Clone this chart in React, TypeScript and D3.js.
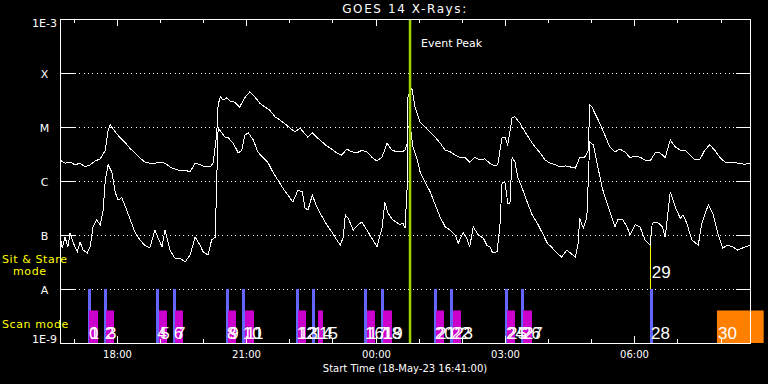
import React from "react";
import * as d3 from "d3";

// GOES 14 x-ray flux, 18-May-23 from 16:41 UT
// [minutes since start, log10 flux (W/m^2)]
const longChannel: [number, number][] = [
  [0, -5.61], [7, -5.67], [14, -5.65], [21, -5.7], [28, -5.67], [35, -5.74], [42, -5.7],
  [49, -5.63], [56, -5.59], [63, -5.43], [67, -5.06], [70, -4.96], [72, -5.0], [77, -5.09],
  [83, -5.19], [90, -5.28], [97, -5.39], [104, -5.48], [111, -5.57], [118, -5.65], [125, -5.67],
  [132, -5.67], [139, -5.65], [146, -5.67], [153, -5.74], [160, -5.78], [167, -5.81],
  [174, -5.8], [181, -5.83], [188, -5.67], [195, -5.7], [202, -5.74], [209, -5.74],
  [213, -5.67], [218, -5.15], [220, -4.59], [223, -4.44], [227, -4.5], [232, -4.46],
  [237, -4.52], [243, -4.54], [250, -4.63], [257, -4.46], [264, -4.35], [271, -4.44],
  [278, -4.56], [285, -4.63], [292, -4.69], [299, -4.81], [306, -4.87], [313, -4.94],
  [320, -5.02], [327, -5.09], [334, -5.02], [341, -5.13], [345, -5.19], [351, -5.11],
  [358, -5.2], [365, -5.28], [371, -5.35], [378, -5.41], [385, -5.48], [392, -5.52],
  [399, -5.41], [406, -5.46], [413, -5.48], [420, -5.43], [427, -5.46], [434, -5.56],
  [441, -5.63], [448, -5.56], [455, -5.3], [462, -5.43], [469, -5.46], [476, -5.46],
  [480, -5.43], [483, -5.3], [484, -4.46], [487, -4.31], [488, -4.28], [490, -4.31],
  [494, -4.63], [501, -4.91], [508, -5.0], [515, -5.09], [522, -5.19], [529, -5.3],
  [536, -5.43], [543, -5.46], [550, -5.52], [557, -5.57], [563, -5.56], [570, -5.65],
  [577, -5.56], [584, -5.61], [591, -5.59], [598, -5.67], [605, -5.72], [609, -5.7],
  [615, -5.2], [619, -5.19], [623, -5.33], [629, -4.83], [633, -4.81], [640, -4.93],
  [647, -5.09], [654, -5.24], [661, -5.37], [668, -5.48], [675, -5.61], [682, -5.67],
  [689, -5.7], [696, -5.74], [703, -5.72], [710, -5.74], [717, -5.76], [723, -5.57],
  [730, -5.56], [735, -5.43], [737, -4.59], [740, -4.63], [744, -4.74], [751, -4.93],
  [758, -5.15], [765, -5.37], [772, -5.46], [779, -5.41], [786, -5.46], [793, -5.57],
  [800, -5.54], [807, -5.56], [814, -5.61], [821, -5.63], [828, -5.48], [835, -5.48],
  [842, -5.57], [849, -5.24], [856, -5.37], [863, -5.43], [870, -5.43], [877, -5.52],
  [883, -5.61], [890, -5.61], [897, -5.43], [904, -5.33], [911, -5.43], [918, -5.56],
  [925, -5.65], [935, -5.65], [943, -5.67], [953, -5.69], [960, -5.67],
];

const shortChannel: [number, number][] = [
  [0, -7.0], [3, -7.24], [7, -7.04], [11, -7.22], [14, -6.96], [18, -7.13], [24, -7.31],
  [28, -7.13], [32, -7.28], [38, -7.33], [42, -7.22], [46, -6.85], [51, -6.72], [56, -6.81],
  [60, -6.54], [63, -5.98], [67, -5.7], [72, -5.83], [77, -6.22], [81, -6.35], [86, -6.31],
  [90, -6.44], [97, -6.69], [104, -6.94], [111, -7.09], [118, -7.19], [125, -7.24],
  [132, -6.91], [136, -7.04], [142, -7.22], [146, -6.91], [153, -7.28], [160, -7.43],
  [167, -7.43], [174, -7.5], [181, -7.37], [188, -7.04], [195, -7.19], [199, -7.31],
  [206, -7.37], [211, -7.09], [216, -7.04], [220, -5.02], [225, -5.11], [230, -5.19],
  [234, -5.2], [241, -5.3], [248, -5.48], [253, -5.43], [257, -5.15], [262, -5.11],
  [269, -5.24], [275, -5.46], [282, -5.56], [289, -5.65], [296, -5.83], [303, -5.98],
  [310, -6.13], [317, -6.26], [324, -6.39], [331, -6.17], [337, -6.2], [341, -6.5],
  [345, -6.54], [351, -6.26], [358, -6.5], [365, -6.67], [371, -6.81], [378, -6.94],
  [385, -7.09], [390, -7.19], [394, -7.04], [397, -6.63], [401, -6.69], [408, -6.91],
  [415, -6.81], [420, -6.76], [427, -6.91], [434, -7.06], [441, -7.22], [448, -6.87],
  [452, -6.39], [456, -6.59], [463, -6.72], [473, -6.81], [477, -6.78], [480, -6.87],
  [483, -6.11], [484, -5.0], [487, -4.96], [491, -5.37], [497, -5.61], [501, -5.83],
  [508, -6.02], [515, -6.2], [522, -6.44], [529, -6.67], [536, -6.85], [543, -6.91],
  [550, -7.0], [554, -7.15], [561, -6.96], [566, -7.06], [570, -7.22], [575, -6.85],
  [582, -7.0], [589, -7.06], [594, -7.19], [598, -7.22], [602, -7.33], [608, -7.31],
  [612, -6.85], [615, -6.04], [619, -6.02], [623, -6.41], [626, -6.41], [629, -5.56],
  [633, -5.65], [637, -5.93], [643, -6.13], [650, -6.39], [657, -6.63], [664, -6.78],
  [671, -6.96], [678, -7.15], [685, -7.24], [691, -7.33], [698, -7.41], [705, -7.28],
  [710, -7.33], [717, -7.41], [721, -7.15], [723, -6.69], [728, -6.87], [733, -6.67],
  [737, -5.28], [742, -5.33], [747, -5.65], [754, -6.11], [761, -6.41], [768, -6.69],
  [772, -6.85], [776, -6.72], [783, -6.72], [789, -6.85], [793, -7.0], [800, -6.81],
  [807, -6.85], [814, -7.09], [821, -7.19], [824, -6.78], [831, -6.76], [838, -6.85],
  [842, -7.04], [849, -6.2], [856, -6.48], [863, -6.69], [867, -6.63], [872, -6.78],
  [879, -7.09], [888, -7.19], [893, -6.78], [902, -6.44], [909, -6.63], [915, -6.96],
  [922, -7.24], [929, -7.19], [936, -7.22], [943, -7.28], [953, -7.22], [960, -7.19],
];

// observation sequence (minutes since start)
const sitStareStarts = [39, 61, 134, 157, 231, 253, 328, 351, 423, 447, 520, 543, 619, 641, 821];
const sitStareIds = [0, 2, 4, 6, 8, 10, 12, 14, 16, 18, 20, 22, 24, 26, 28];
const scanStarts = [40, 64, 138, 160, 234, 257, 331, 359, 427, 449, 523, 547, 622, 644];
const scanEnds = [53, 75, 149, 171, 245, 269, 342, 366, 438, 461, 534, 558, 633, 657];
const scanIds = [1, 3, 5, 7, 9, 11, 13, 15, 17, 19, 21, 23, 25, 27];
const markerTime = 822; // 29
const lastScan = [914, 979]; // 30
const eventPeak = 487;

const levelLabels = ["1E-9", "A", "B", "C", "M", "X", "1E-3"];
const levels = [1e-9, 1e-8, 1e-7, 1e-6, 1e-5, 1e-4, 1e-3];

const startTime = new Date(Date.UTC(2023, 4, 18, 16, 41));
const t = (m: number) => new Date(startTime.getTime() + m * 60000);

const font = "DejaVu Sans, sans-serif";

export default function App() {
  const W = 768;
  const H = 384;
  const left = 60, right = 750, top = 19, bottom = 343;

  const x = d3.scaleUtc().domain([t(0), t(960)]).range([left, right]);
  const y = d3.scaleLog().domain([1e-9, 1e-3]).range([bottom, top]);

  const line = d3
    .line<[number, number]>()
    .x((d) => x(t(d[0])))
    .y((d) => y(Math.pow(10, d[1])));

  const hours = d3.utcHour.range(t(0), t(960));
  const fmt = d3.utcFormat("%H:%M");
  const scanTop = y(4e-9);

  return (
    <svg width={W} height={H} style={{ position: "absolute", left: 0, top: 0 }}>
      <rect width={W} height={H} fill="black" />

      {/* gridlines */}
      {levels.slice(1, -1).map((v) => (
        <g key={v} shapeRendering="crispEdges">
          <line x1={left} x2={left + 15} y1={y(v)} y2={y(v)} stroke="white" />
          <line x1={right - 14} x2={right} y1={y(v)} y2={y(v)} stroke="white" />
          <line x1={left + 15} x2={right - 14} y1={y(v)} y2={y(v)} stroke="white" strokeDasharray="1 3.33" />
        </g>
      ))}

      {/* scan / sit & stare bars */}
      {sitStareStarts.map((m, i) => (
        <rect key={"b" + i} x={Math.round(x(t(m)))} y={y(1e-8)} width={3} height={bottom - y(1e-8)} fill="#6464ff" />
      ))}
      {scanStarts.map((m, i) => (
        <rect key={"m" + i} x={Math.round(x(t(m)))} y={scanTop}
          width={Math.round(x(t(scanEnds[i])) - x(t(m)))} height={bottom - scanTop} fill="#cc00cc" />
      ))}
      <rect x={x(t(lastScan[0]))} y={scanTop} width={x(t(lastScan[1])) - x(t(lastScan[0]))}
        height={bottom - scanTop} fill="#ff8000" />
      <line x1={x(t(markerTime))} x2={x(t(markerTime))} y1={y(1e-7)} y2={y(1e-8)} stroke="#ffff00" shapeRendering="crispEdges" />

      {/* flux curves */}
      <g fill="none" stroke="white" strokeWidth={1} shapeRendering="crispEdges">
        <path d={line(longChannel) || ""} />
        <path d={line(shortChannel) || ""} />
      </g>

      {/* event peak */}
      <line x1={x(t(eventPeak))} x2={x(t(eventPeak))} y1={top} y2={bottom} stroke="#a0d400" strokeWidth={2.5} />
      <text x={421} y={47} fill="white" fontFamily={font} fontSize={11}>Event Peak</text>

      {/* bar numbers */}
      <g fill="white" fontFamily="Liberation Sans, sans-serif" fontSize={17}>
        {sitStareStarts.map((m, i) => (
          <text key={"bl" + i} x={x(t(m)) + 1} y={339}>{sitStareIds[i]}</text>
        ))}
        {scanStarts.map((m, i) => (
          <text key={"ml" + i} x={x(t(m)) + 1} y={339}>{scanIds[i]}</text>
        ))}
        <text x={x(t(markerTime)) + 1} y={278}>29</text>
        <text x={x(t(lastScan[0])) + 1} y={339}>30</text>
      </g>

      {/* frame */}
      <rect x={left} y={top} width={right - left} height={bottom - top} fill="none" stroke="white" shapeRendering="crispEdges" />

      {/* time ticks */}
      {hours.map((h) => {
        const major = h.getUTCHours() % 3 === 0;
        const len = major ? 7 : 4;
        const xx = Math.round(x(h)) + 0.5;
        return (
          <g key={h.getTime()}>
            <line x1={xx} x2={xx} y1={top} y2={top + len} stroke="white" />
            <line x1={xx} x2={xx} y1={bottom} y2={bottom - len} stroke="white" />
            {major && (
              <text x={xx} y={358} fill="white" fontFamily={font} fontSize={10} textAnchor="middle">{fmt(h)}</text>
            )}
          </g>
        );
      })}

      {/* level labels */}
      {levels.map((v, i) => (
        <text key={v} x={44.5} y={Math.min(343, Math.max(27, y(v) + 4.5))} fill="white"
          fontFamily={font} fontSize={11} textAnchor="middle">{levelLabels[i]}</text>
      ))}

      <text x={405} y={13} fill="white" fontFamily={font} fontSize={12} letterSpacing={1.6} textAnchor="middle">GOES 14 X-Rays:</text>
      <text x={405} y={372} fill="white" fontFamily={font} fontSize={10} textAnchor="middle">Start Time (18-May-23 16:41:00)</text>

      <g fill="#ffff00" fontFamily={font} fontSize={11} letterSpacing={0.6}>
        <text x={2} y={263}>Sit &amp; Stare</text>
        <text x={13} y={275}>mode</text>
        <text x={2} y={328}>Scan mode</text>
      </g>
    </svg>
  );
}
